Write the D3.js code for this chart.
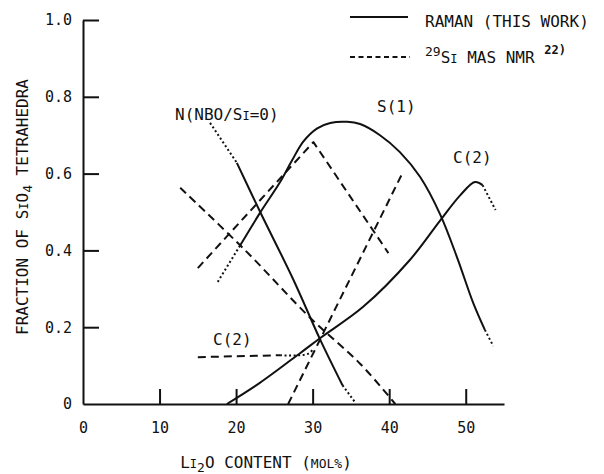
<!DOCTYPE html>
<html>
<head>
<meta charset="utf-8">
<script src="https://cdn.jsdelivr.net/npm/d3@7"></script>
<style>
    body { margin: 0; background: #fff; }
    svg { display: block; }
    text { font-family: "DejaVu Sans Mono", monospace; fill: #111; }
</style>
</head>
<body>
<svg id="grafico" width="604" height="474"></svg>
<script>
// Datos: [contenido Li2O (mol%), fracción]
var xTicks = [0, 10, 20, 30, 40, 50];
var yTicks = [0, 0.2, 0.4, 0.6, 0.8, 1.0];
var yTickLabels = ["0", "0.2", "0.4", "0.6", "0.8", "1.0"];

// Raman (línea continua, extremos punteados)
var ramanN_ini = [[16.6, 0.732], [20.1, 0.628]];
var ramanN = [[20.1, 0.628], [23.1, 0.502], [27.5, 0.323], [31.0, 0.167], [33.9, 0.049]];
var ramanN_fin = [[33.9, 0.049], [35.6, 0.003]];

var ramanS1_ini = [[17.6, 0.318], [20.5, 0.412]];
var ramanS1 = [[20.5, 0.412], [23.1, 0.497], [25.75, 0.578], [27.3, 0.634], [28.8, 0.684],
               [30.6, 0.718], [32.3, 0.732], [34.5, 0.735], [36.2, 0.729], [38.8, 0.700],
               [41.4, 0.656], [44.05, 0.591], [46.7, 0.492], [48.9, 0.380], [51.0, 0.262],
               [52.5, 0.193]];
var ramanS1_fin = [[52.5, 0.193], [53.6, 0.151]];

var ramanC2 = [[18.8, 0], [23.1, 0.055], [28.4, 0.133], [31.0, 0.172], [36.6, 0.253],
               [42.7, 0.375], [46.7, 0.479], [49.3, 0.544], [51.2, 0.578], [52.2, 0.570]];
var ramanC2_fin = [[52.2, 0.570], [53.9, 0.505]];

// 29Si MAS NMR (discontinua)
var nmrN = [[12.7, 0.563], [21.2, 0.400], [29.7, 0.224], [36.2, 0.105], [40.8, 0]];
var nmrS1 = [[15.0, 0.354], [30.1, 0.682], [39.9, 0.393]];
var nmrC2 = [[15.0, 0.122], [25.75, 0.127]];
var nmrC2_fin = [[25.75, 0.127], [29.3, 0.130], [30.1, 0.143]];
var nmrSube = [[26.8, 0], [41.8, 0.604]];

var svg = d3.select("#grafico");

var x = d3.scaleLinear().domain([0, 55]).range([83, 504]);
var y = d3.scaleLinear().domain([0, 1]).range([404, 20]);

// Ejes
var ejeX = svg.append("g")
    .attr("transform", "translate(0," + y(0) + ")")
    .call(d3.axisBottom(x)
        .tickValues(xTicks)
        .tickFormat(d3.format("d"))
        .tickSizeInner(-15)
        .tickSizeOuter(0)
        .tickPadding(18));

var ejeY = svg.append("g")
    .attr("transform", "translate(" + x(0) + ",0)")
    .call(d3.axisLeft(y)
        .tickValues(yTicks)
        .tickFormat((d, i) => yTickLabels[i])
        .tickSizeInner(-16)
        .tickSizeOuter(0)
        .tickPadding(11));

[ejeX, ejeY].forEach(function(eje){
    eje.attr("font-family", null).attr("font-size", null);
    eje.select(".domain").attr("stroke", "#111").attr("stroke-width", 2);
    eje.selectAll(".tick line").attr("stroke", "#111").attr("stroke-width", 2);
    eje.selectAll(".tick").filter(d => d === 0).select("line").remove();
    eje.selectAll(".tick text").style("font-size", "15px").attr("fill", "#111");
});

// Curvas
var linea = d3.line()
    .x(d => x(d[0]))
    .y(d => y(d[1]))
    .curve(d3.curveCatmullRom.alpha(0.5));
var recta = d3.line()
    .x(d => x(d[0]))
    .y(d => y(d[1]));

function trazo(datos, tipo, gen){
    var p = svg.append("path")
        .datum(datos)
        .attr("d", gen || linea)
        .attr("fill", "none")
        .attr("stroke", "#111")
        .attr("stroke-width", 2)
        .attr("stroke-linejoin", "round");
    if (tipo == "dash") p.attr("stroke-dasharray", "8,5");
    if (tipo == "dot") p.attr("stroke-dasharray", "2,2.5");
    return p;
}

trazo(ramanN_ini, "dot");
trazo(ramanN, "solid");
trazo(ramanN_fin, "dot");
trazo(ramanS1_ini, "dot");
trazo(ramanS1, "solid");
trazo(ramanS1_fin, "dot");
trazo(ramanC2, "solid");
trazo(ramanC2_fin, "dot");

trazo(nmrN, "dash");
trazo(nmrS1, "dash", recta);
trazo(nmrC2, "dash");
trazo(nmrC2_fin, "dot");
trazo(nmrSube, "dash", recta);

// Títulos de ejes
var tituloY = svg.append("text")
    .attr("transform", "translate(28,207) rotate(-90)")
    .attr("text-anchor", "middle")
    .style("font-size", "16px");
tituloY.append("tspan").text("FRACTION OF S");
tituloY.append("tspan").style("font-size", "12px").text("I");
tituloY.append("tspan").text("O");
tituloY.append("tspan").attr("dy", 4).style("font-size", "13px").text("4");
tituloY.append("tspan").attr("dy", -4).text(" TETRAHEDRA");

var tituloX = svg.append("text")
    .attr("x", 266)
    .attr("y", 468)
    .attr("text-anchor", "middle")
    .style("font-size", "16px");
tituloX.append("tspan").text("L");
tituloX.append("tspan").style("font-size", "12px").text("I");
tituloX.append("tspan").attr("dy", 4).style("font-size", "13px").text("2");
tituloX.append("tspan").attr("dy", -4).text("O CONTENT (");
tituloX.append("tspan").style("font-size", "13px").text("MOL%");
tituloX.append("tspan").text(")");

// Etiquetas de curvas
var etiqN = svg.append("text").attr("x", 175).attr("y", 120).style("font-size", "16px");
etiqN.append("tspan").text("N(NBO/S");
etiqN.append("tspan").style("font-size", "12px").text("I");
etiqN.append("tspan").text("=0)");

svg.append("text").attr("x", 377).attr("y", 112).style("font-size", "16px").text("S(1)");
svg.append("text").attr("x", 453).attr("y", 163).style("font-size", "16px").text("C(2)");
svg.append("text").attr("x", 213).attr("y", 345).style("font-size", "16px").text("C(2)");

// Leyenda
svg.append("line")
    .attr("x1", 350).attr("x2", 408).attr("y1", 17).attr("y2", 17)
    .attr("stroke", "#111").attr("stroke-width", 2);
svg.append("text").attr("x", 425).attr("y", 27).style("font-size", "16px").text("RAMAN (THIS WORK)");

svg.append("line")
    .attr("x1", 350).attr("x2", 410).attr("y1", 57).attr("y2", 57)
    .attr("stroke", "#111").attr("stroke-width", 2)
    .attr("stroke-dasharray", "5,3.5");
var leyNmr = svg.append("text").attr("x", 425).attr("y", 63).style("font-size", "16px");
leyNmr.append("tspan").attr("dy", -7).style("font-size", "13px").text("29");
leyNmr.append("tspan").attr("dy", 7).text("S");
leyNmr.append("tspan").style("font-size", "12px").text("I");
leyNmr.append("tspan").text(" MAS NMR ");
leyNmr.append("tspan").attr("dy", -9).style("font-size", "12px").style("font-weight", "bold").text("22)");
</script>
</body>
</html>
